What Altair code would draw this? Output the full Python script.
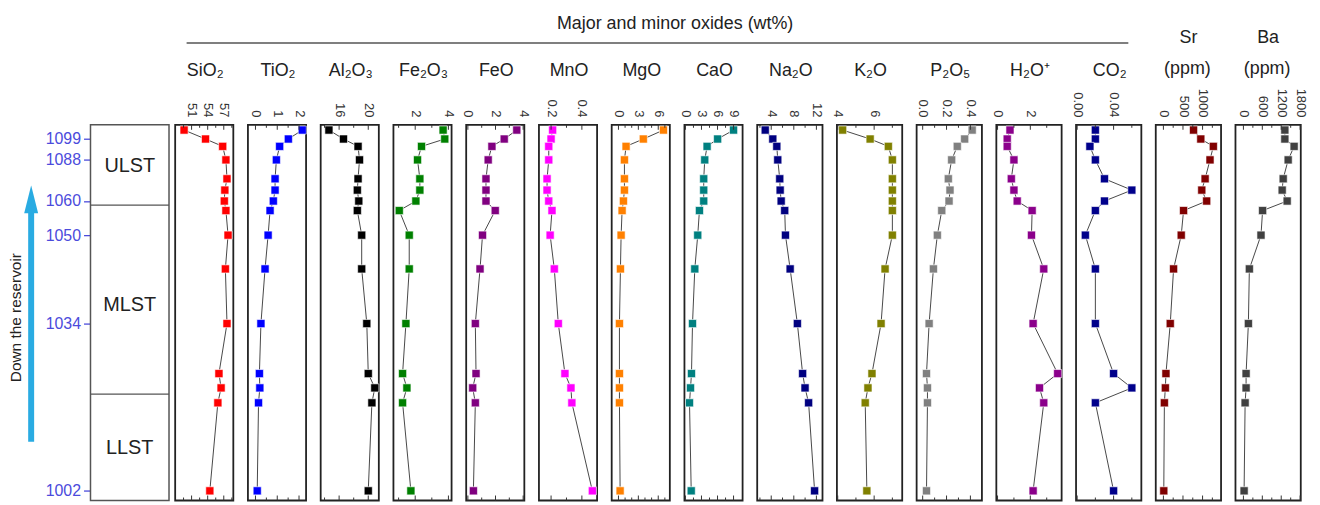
import altair as alt
import pandas as pd

# ---------------- data ----------------
# relative position of each sample along the profile (0 = top, 100 = bottom of panel)
sample_pos = [1.40, 3.78, 5.74, 9.34, 14.37, 17.38, 20.29, 22.83, 29.37, 38.36, 52.91, 66.22, 70.03, 74.0, 97.43]
depth_tick_samples = [1, 3, 6, 8, 10, 14]
depth_labels = ["1099", "1088", "1060", "1050", "1034", "1002"]
zone_names = ["ULST", "MLST", "LLST"]
zone_label_pos = [11.1, 47.9, 86.0]
zone_bounds = [21.38, 71.69]

SiO2 = [49.6, 53.6, 56.8, 57.4, 57.6, 57.2, 57.1, 57.4, 57.8, 57.3, 57.6, 56.1, 56.5, 55.9, 54.4]
TiO2 = [2.15, 1.51, 1.11, 0.96, 0.90, 0.90, 0.82, 0.67, 0.58, 0.44, 0.25, 0.18, 0.20, 0.14, 0.08]
Al2O3 = [14.6, 16.6, 18.6, 18.8, 18.6, 18.5, 18.7, 18.5, 19.1, 19.1, 19.8, 20.0, 20.9, 20.5, 20.0]
Fe2O3 = [3.68, 3.78, 2.38, 2.14, 2.28, 2.28, 2.04, 1.04, 1.64, 1.64, 1.44, 1.24, 1.50, 1.24, 1.74]
FeO = [3.54, 2.63, 1.74, 1.47, 1.31, 1.31, 1.31, 1.98, 1.06, 0.88, 0.54, 0.59, 0.35, 0.54, 0.40]
MnO = [0.21, 0.20, 0.185, 0.185, 0.174, 0.174, 0.185, 0.206, 0.194, 0.221, 0.247, 0.29, 0.329, 0.335, 0.468]
MgO = [6.79, 3.75, 1.15, 0.90, 0.90, 0.90, 0.75, 0.55, 0.40, 0.30, 0.15, 0.15, 0.15, 0.15, 0.25]
CaO = [9.0, 6.02, 4.05, 3.61, 3.42, 3.42, 3.42, 2.62, 2.30, 1.75, 1.32, 1.13, 0.95, 0.76, 1.08]
Na2O = [2.94, 4.28, 4.99, 5.16, 5.51, 5.58, 5.76, 6.39, 6.52, 7.35, 8.63, 9.56, 9.99, 10.62, 11.68]
K2O = [4.27, 5.78, 6.78, 7.0, 7.0, 7.0, 7.0, 7.0, 7.0, 6.60, 6.38, 5.88, 5.66, 5.51, 5.60]
P2O5 = [0.415, 0.352, 0.29, 0.243, 0.215, 0.229, 0.221, 0.16, 0.123, 0.09, 0.054, 0.032, 0.04, 0.04, 0.032]
H2O = [0.76, 0.59, 0.59, 1.0, 0.84, 1.0, 1.2, 2.11, 2.07, 2.82, 2.17, 3.67, 2.56, 2.82, 2.17]
CO2 = [0.02, 0.02, 0.014, 0.02, 0.03, 0.06, 0.03, 0.02, 0.009, 0.02, 0.02, 0.04, 0.06, 0.02, 0.04]
Sr = [770, 955, 1275, 1190, 1065, 980, 1105, 515, 455, 260, 175, 65, 50, 25, 10]
Ba = [1315, 1315, 1609, 1420, 1262, 1230, 1388, 609, 558, 189, 158, 85, 85, 54, 22]

titles = ["SiO₂", "TiO₂", "Al₂O₃", "Fe₂O₃", "FeO", "MnO", "MgO", "CaO", "Na₂O", "K₂O",
          "P₂O₅", "H₂O⁺", "CO₂", "Sr", "Ba"]
series = [SiO2, TiO2, Al2O3, Fe2O3, FeO, MnO, MgO, CaO, Na2O, K2O, P2O5, H2O, CO2, Sr, Ba]
colors = ["#ff0000", "#0000ff", "#000000", "#008000", "#800080", "#ff00ff", "#ff8000",
          "#008080", "#000080", "#808000", "#808080", "#8b008b", "#00008b", "#800000", "#404040"]
major_ticks = [[51, 54, 57], [0, 1, 2], [16, 20], [2, 4], [0, 2, 4], [0.2, 0.4], [0, 3, 6],
               [0, 3, 6, 9], [4, 8, 12], [4, 6], [0.0, 0.2, 0.4], [0, 2], [0.0, 0.04],
               [0, 500, 1000], [0, 600, 1200, 1800]]
minor_ticks = [[49.5, 52.5, 55.5, 58.5], [0.5, 1.5], [14, 18], [1, 3], [1, 3], [0.3],
               [1, 2, 4, 5, 7], [1.5, 4.5, 7.5], [2, 6, 10], [5, 7], [0.1, 0.3], [1, 3],
               [0.02, 0.06], [250, 750, 1250], [300, 900, 1500]]
label_formats = ["d", "d", "d", "d", "d", ".1f", "d", "d", "d", "d", ".1f", "d", ".2f", "d", "d"]
domains = [[47.94, 58.78], [-0.347, 2.324], [13.47, 21.45], [0.689, 4.19], [-0.122, 4.086],
           [0.1213, 0.4987], [-1.02, 7.75], [-0.186, 10.69], [1.518, 13.08], [3.956, 7.541],
           [-0.0508, 0.4967], [-0.073, 3.91], [-0.0012, 0.07045], [-195, 1472], [-252, 1820]]

# ---------------- layout ----------------
H = 378
W1 = 58.5
W2 = 65.7
SP = 14.2
ZW = 70.7       # zone panel layout width (box drawn 79 wide)
FONT = "Liberation Sans"
TXT = "#222222"

yscale = alt.Scale(domain=[0, 100], reverse=True, nice=False, zero=False)


def oxide_panel(i):
    width = W1 if i < 8 else W2
    xscale = alt.Scale(domain=domains[i], nice=False, zero=False)
    xaxis = alt.Axis(orient="top", values=major_ticks[i], format=label_formats[i],
                     labelAngle=90, labelAlign="right", labelBaseline="middle",
                     labelPadding=8, ticks=False, domain=False, grid=False, title="",
                     labelFontSize=13, labelColor="#333333", labelFont=FONT,
                     labelOverlap=False, labelFlush=False, labelBound=False)
    X = alt.X("val:Q", scale=xscale, axis=xaxis)
    df = pd.DataFrame({"pos": sample_pos, "val": series[i]})
    Y = alt.Y("pos:Q", scale=yscale, axis=None)
    line = alt.Chart(df).mark_line(color="#333333", strokeWidth=0.9).encode(
        x=X, y=Y, order="pos:Q")
    pts = alt.Chart(df).mark_square(size=66, color=colors[i], opacity=1,
                                    stroke="white", strokeWidth=0.6).encode(x=X, y=Y)
    dmaj = pd.DataFrame({"val": major_ticks[i]})
    dmin = pd.DataFrame({"val": minor_ticks[i]})
    tick_layers = [
        alt.Chart(dmaj).mark_rule(color="#333333", strokeWidth=1).encode(
            x=X, y=alt.value(0), y2=alt.value(5)),
        alt.Chart(dmaj).mark_rule(color="#333333", strokeWidth=1).encode(
            x=X, y=alt.value(H), y2=alt.value(H - 5)),
        alt.Chart(dmin).mark_rule(color="#333333", strokeWidth=1).encode(
            x=X, y=alt.value(0), y2=alt.value(3)),
        alt.Chart(dmin).mark_rule(color="#333333", strokeWidth=1).encode(
            x=X, y=alt.value(H), y2=alt.value(H - 3)),
    ]
    layers = [line, pts] + tick_layers
    if i < 13:
        layers.append(
            alt.Chart(pd.DataFrame({"t": [titles[i]]})).mark_text(
                font=FONT, fontSize=18, color=TXT, baseline="alphabetic", align="center"
            ).encode(text="t:N", x=alt.value(width / 2 + 1), y=alt.value(-49.5)))
    else:
        layers.append(
            alt.Chart(pd.DataFrame({"t": [titles[i]]})).mark_text(
                font=FONT, fontSize=18, color=TXT, baseline="alphabetic", align="center"
            ).encode(text="t:N", x=alt.value(width / 2), y=alt.value(-82.3)))
        layers.append(
            alt.Chart(pd.DataFrame({"t": ["(ppm)"]})).mark_text(
                font=FONT, fontSize=18, color=TXT, baseline="alphabetic", align="center"
            ).encode(text="t:N", x=alt.value(width / 2 - 1), y=alt.value(-51)))
    if i == 0:
        layers.append(
            alt.Chart(pd.DataFrame({"t": ["Major and minor oxides (wt%)"]})).mark_text(
                font=FONT, fontSize=18, color=TXT, baseline="alphabetic", align="center"
            ).encode(text="t:N", x=alt.value(503), y=alt.value(-96)))
        layers.append(
            alt.Chart(pd.DataFrame({"a": [0]})).mark_rule(color="#555555", strokeWidth=1.4).encode(
                x=alt.value(11.5), x2=alt.value(959), y=alt.value(-82.3)))
    return alt.layer(*layers).properties(
        width=width, height=H,
        view=alt.ViewBackground(stroke="#222222", strokeWidth=1.8))


# ---------------- zone / depth panel ----------------
depth_vals = [sample_pos[k] for k in depth_tick_samples]
label_expr = " : ".join(
    f"datum.value == {v} ? '{lab}'" for v, lab in zip(depth_vals, depth_labels)) + " : ''"
yaxis_depth = alt.Axis(orient="left", values=depth_vals, labelExpr=label_expr,
                       tickColor="#4b4bdc", tickSize=7, tickWidth=1.3,
                       labelColor="#4b4bdc", labelFontSize=16,
                       labelFont=FONT,
                       labelPadding=3, domain=False, grid=False, title="",
                       labelBaseline="middle", labelOverlap=False, labelFlush=False)

box = alt.Chart(pd.DataFrame({"a": [0]})).mark_rect(
    fillOpacity=0, stroke="#555555", strokeWidth=1.5).encode(
    x=alt.value(0), x2=alt.value(79), y=alt.value(0), y2=alt.value(H))
bnd = alt.Chart(pd.DataFrame({"b": zone_bounds})).mark_rule(
    color="#555555", strokeWidth=1.3).encode(
    y=alt.Y("b:Q", scale=yscale, axis=yaxis_depth), x=alt.value(0), x2=alt.value(79))
ztext = alt.Chart(pd.DataFrame({"name": zone_names, "p": zone_label_pos})).mark_text(
    font=FONT, fontSize=20, color=TXT).encode(
    y=alt.Y("p:Q", scale=yscale, axis=yaxis_depth), x=alt.value(39.5), text="name:N")
shaft = alt.Chart(pd.DataFrame({"a": [0]})).mark_rule(
    color="#29abe2", strokeWidth=6, strokeCap="butt").encode(
    x=alt.value(-59.7), y=alt.value(319), y2=alt.value(80))
head = alt.Chart(pd.DataFrame({"a": [0]})).mark_point(
    shape="M0,-1L0.5,1L-0.5,1Z", filled=True, size=784, color="#29abe2", opacity=1).encode(
    x=alt.value(-59.7), y=alt.value(75))
dtext = alt.Chart(pd.DataFrame({"t": ["Down the reservoir"]})).mark_text(
    font=FONT, fontSize=15.5, color=TXT, angle=270, baseline="middle", align="center").encode(
    text="t:N", x=alt.value(-75), y=alt.value(194))

zone = alt.layer(box, bnd, ztext, shaft, head, dtext).properties(
    width=ZW, height=H, view=alt.ViewBackground(stroke="transparent"))

panels = [oxide_panel(i) for i in range(len(series))]

chart = alt.hconcat(zone, *panels, spacing=SP, bounds="flush").properties(
    padding={"left": 0, "top": 5, "right": 5, "bottom": 0}
).configure_view(stroke="transparent")

chart.save("out.html", embed_options={"renderer": "svg", "actions": False})
